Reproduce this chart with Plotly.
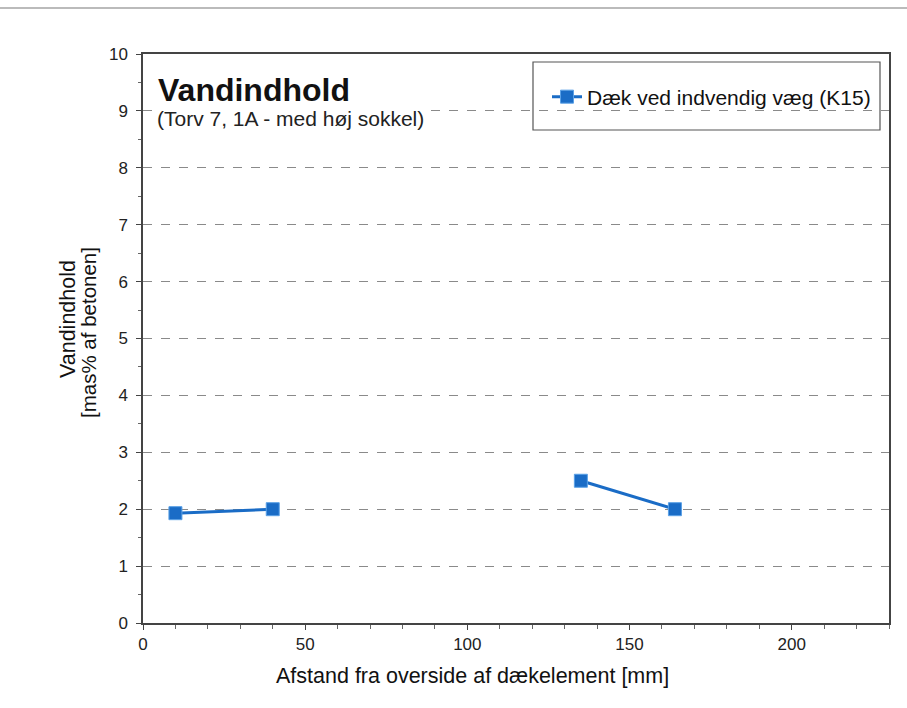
import plotly.graph_objects as go

# Measurements: distance from top of deck element [mm] and water content [mass-%]
afstand = [10, 40, None, 135, 164]
vandindhold = [1.93, 2.0, None, 2.5, 2.0]

serie_navn = "Dæk ved indvendig væg (K15)"
titel = "Vandindhold"
undertitel = "(Torv 7, 1A - med høj sokkel)"
x_titel = "Afstand fra overside af dækelement [mm]"
y_titel_1 = "Vandindhold"
y_titel_2 = "[mas% af betonen]"

blue = "#1a6cc6"
font_family = "Liberation Sans, Arial, sans-serif"

L, R, T, B = 143, 18, 54, 85
W, H = 907, 708
PW, PH = W - L - R, H - T - B


def px(x):
    """Horizontal page pixel -> paper fraction."""
    return (x - L) / PW


def py(y):
    """Vertical page pixel (from top) -> paper fraction."""
    return (H - B - y) / PH


fig = go.Figure()
fig.add_trace(go.Scatter(
    x=afstand, y=vandindhold, name=serie_navn,
    mode="lines+markers", connectgaps=False,
    line=dict(color=blue, width=3),
    marker=dict(symbol="square", size=13, color=blue,
                line=dict(color="#5aa0e6", width=1)),
))

fig.update_layout(
    width=W, height=H,
    margin=dict(l=L, r=R, t=T, b=B),
    paper_bgcolor="white", plot_bgcolor="white",
    font=dict(family=font_family, size=17, color="#222"),
    showlegend=True,
    legend=dict(x=px(547), y=py(97), xanchor="left", yanchor="middle",
                bgcolor="rgba(0,0,0,0)", borderwidth=0,
                font=dict(size=21, color="#111")),
    xaxis=dict(
        range=[0, 230], tickvals=[0, 50, 100, 150, 200],
        ticks="outside", ticklen=5, tickcolor="#444",
        minor=dict(dtick=10, ticks="outside", ticklen=4, tickcolor="#666"),
        showline=True, linecolor="#444", linewidth=1.5, mirror=True,
        showgrid=False, zeroline=False,
        tickfont=dict(size=17, color="#222"),
    ),
    yaxis=dict(
        range=[0, 10], dtick=1,
        ticks="outside", ticklen=5, tickcolor="#444",
        minor=dict(dtick=0.5, ticks="outside", ticklen=3, tickcolor="#666"),
        showline=True, linecolor="#444", linewidth=1.5, mirror=True,
        showgrid=True, gridcolor="#8a8a8a", gridwidth=1, griddash="dash",
        zeroline=False, ticklabelstandoff=5,
        tickfont=dict(size=17, color="#222"),
    ),
)

# Legend frame
fig.add_shape(type="rect", xref="paper", yref="paper",
              x0=px(533), x1=px(880), y0=py(130), y1=py(62),
              line=dict(color="#555", width=1.2), fillcolor="white", layer="below")

# Thin frame line across the top of the page
fig.add_shape(type="line", xref="paper", yref="paper",
              x0=px(0), x1=px(W), y0=py(8), y1=py(8),
              line=dict(color="#bbbbbb", width=2))

# Chart title and subtitle inside the plot area
fig.add_annotation(text="<b>" + titel + "</b>", xref="paper", yref="paper",
                   x=0.017, y=0.937, xanchor="left", yanchor="middle",
                   showarrow=False, font=dict(size=32, color="#111"))
fig.add_annotation(text=undertitel, xref="paper", yref="paper",
                   x=px(155), y=py(119), xanchor="left", yanchor="middle",
                   showarrow=False, bgcolor="white",
                   font=dict(size=21, color="#222"))

# Axis titles
fig.add_annotation(text=x_titel, xref="paper", yref="paper",
                   x=px(472), y=py(676), xanchor="center", yanchor="middle",
                   showarrow=False, font=dict(size=21.5, color="#111"))
fig.add_annotation(text=y_titel_1, xref="paper", yref="paper",
                   x=px(68), y=py(319), xanchor="center", yanchor="middle",
                   textangle=-90, showarrow=False,
                   font=dict(size=21.5, color="#111"))
fig.add_annotation(text=y_titel_2, xref="paper", yref="paper",
                   x=px(88), y=py(333), xanchor="center", yanchor="middle",
                   textangle=-90, showarrow=False,
                   font=dict(size=20.5, color="#111"))

fig.write_html("out.html")
